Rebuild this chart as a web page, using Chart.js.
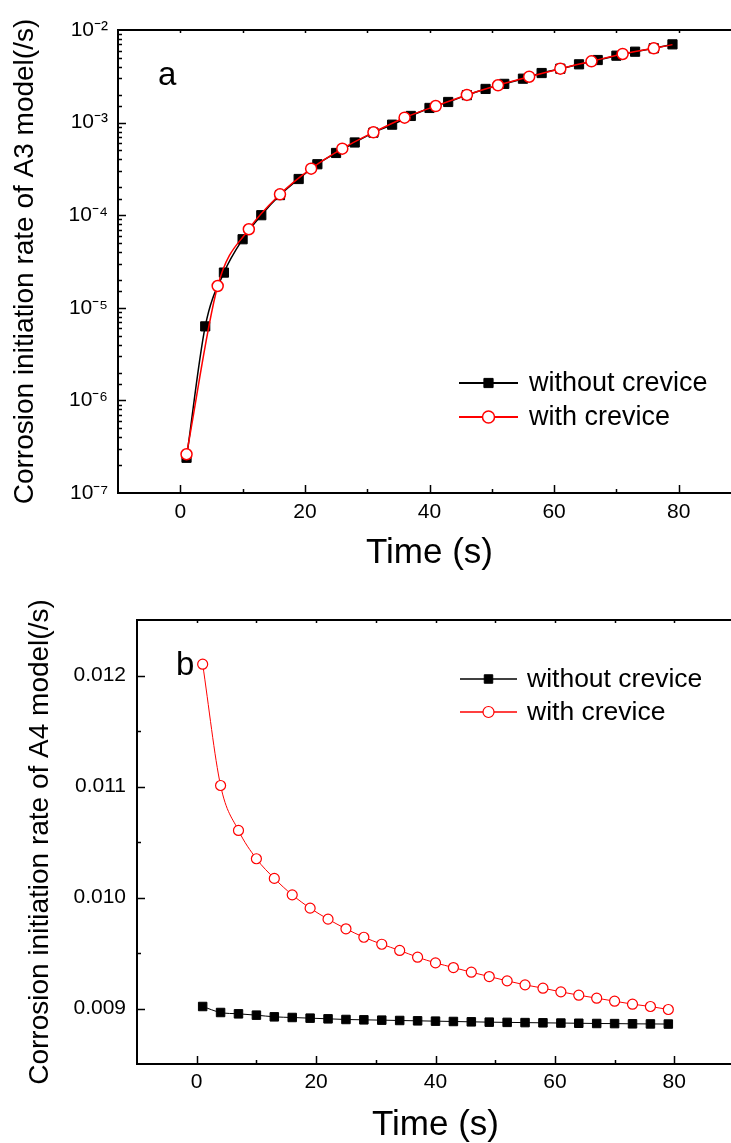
<!DOCTYPE html>
<html>
<head>
<meta charset="utf-8">
<script src="https://cdn.jsdelivr.net/npm/chart.js@4.4.0/dist/chart.umd.min.js"></script>
<style>
  html, body { margin: 0; padding: 0; background: #fff; overflow: hidden; width: 731px; height: 1143px; }
  #wrapA { position: absolute; left: 0; top: 0; width: 750px; height: 580px; }
  #wrapB { position: absolute; left: 0; top: 580px; width: 745px; height: 563px; }
</style>
</head>
<body>
<div id="wrapA"><canvas id="chartA" width="750" height="580"></canvas></div>
<div id="wrapB"><canvas id="chartB" width="745" height="563"></canvas></div>
<script>
// panel a (A3 model, log axis)
const timeA_without = [1, 4, 7, 10, 13, 16, 19, 22, 25, 28, 31, 34, 37, 40, 43, 46, 49, 52, 55, 58, 61, 64, 67, 70, 73, 76, 79];
const rateA_without = [2.4e-7, 6.3e-6, 2.4e-5, 5.5e-5, 1.0e-4, 1.65e-4, 2.46e-4, 3.55e-4, 4.7e-4, 6.1e-4,
                       7.8e-4, 9.5e-4, 1.18e-3, 1.44e-3, 1.67e-3, 1.98e-3, 2.31e-3, 2.62e-3, 2.98e-3, 3.43e-3,
                       3.82e-3, 4.26e-3, 4.74e-3, 5.28e-3, 5.83e-3, 6.35e-3, 7.0e-3];
const timeA_with = [1, 6, 11, 16, 21, 26, 31, 36, 41, 46, 51, 56, 61, 66, 71, 76, 79];
const rateA_with = [2.62e-7, 1.72e-5, 7.05e-5, 1.68e-4, 3.18e-4, 5.23e-4, 7.85e-4, 1.13e-3, 1.51e-3,
                    1.99e-3, 2.53e-3, 3.13e-3, 3.82e-3, 4.59e-3, 5.51e-3, 6.34e-3, 6.95e-3];

// panel b (A4 model, linear axis)
const timeB = [1, 4, 7, 10, 13, 16, 19, 22, 25, 28, 31, 34, 37, 40, 43, 46, 49, 52, 55, 58, 61, 64, 67, 70, 73, 76, 79];
const rateB_without = [0.009018, 0.008964, 0.008952, 0.008940, 0.008925, 0.008919, 0.008913, 0.008907, 0.008901,
                       0.008898, 0.008895, 0.008892, 0.008889, 0.008886, 0.008883, 0.008880, 0.008877, 0.008875,
                       0.008873, 0.008871, 0.008869, 0.008867, 0.008865, 0.008864, 0.008862, 0.008861, 0.008860];
const rateB_with = [0.012102, 0.011009, 0.010604, 0.010349, 0.010172, 0.010024, 0.009904, 0.009805, 0.009718,
                    0.009642, 0.009579, 0.009523, 0.009462, 0.009411, 0.009369, 0.009327, 0.009288, 0.009249,
                    0.009213, 0.009183, 0.009150, 0.009120, 0.009093, 0.009066, 0.009039, 0.009018, 0.008991];

const seriesNames = ['without crevice', 'with crevice'];
const xTickValues = [0, 20, 40, 60, 80];
const xTickLabels = ['0', '20', '40', '60', '80'];
const yTickExpA = [-7, -6, -5, -4, -3, -2];
const yTickLabelsA = ['10\u207B\u2077', '10\u207B\u2076', '10\u207B\u2075', '10\u207B\u2074', '10\u207B\u00B3', '10\u207B\u00B2'];
const yTickValuesB = [0.009, 0.010, 0.011, 0.012];
const yTickLabelsB = ['0.009', '0.010', '0.011', '0.012'];

const FONT = '"Liberation Sans", Arial, Helvetica, sans-serif';

function pairs(xs, ys) {
    return xs.map((x, i) => ({ x: x, y: ys[i] }));
}

function xLabel(v) {
    const i = xTickValues.indexOf(v);
    return i >= 0 ? xTickLabels[i] : '';
}

function near(a, b) {
    return Math.abs(a - b) < 1e-9 * Math.max(1, Math.abs(b)) || Math.abs(a - b) < 1e-12;
}

function drawMarker(ctx, style, x, y, r, fill, stroke, bw) {
    ctx.beginPath();
    if (style === 'rect') {
        const s = r * Math.SQRT1_2;
        ctx.rect(x - s, y - s, 2 * s, 2 * s);
    } else {
        ctx.arc(x, y, r, 0, Math.PI * 2);
    }
    ctx.fillStyle = fill;
    ctx.fill();
    if (bw > 0) {
        ctx.lineWidth = bw;
        ctx.strokeStyle = stroke;
        ctx.stroke();
    }
}

// frame + inward ticks (Origin style); right side falls outside the window
const frameTicks = {
    id: 'frameTicks',
    beforeDatasetsDraw(chart, args, o) {
        const { ctx, chartArea: a, scales: { x, y } } = chart;
        ctx.save();
        ctx.strokeStyle = '#000';
        ctx.lineWidth = 2;
        ctx.strokeRect(a.left, a.top, a.right - a.left, a.bottom - a.top);
        ctx.lineWidth = 1.5;
        ctx.beginPath();
        x.ticks.forEach(t => {
            if (t.value <= x.min || t.value >= x.max) return;
            const px = Math.round(x.getPixelForValue(t.value)) + 0.5;
            const len = xTickValues.includes(t.value) ? 8 : 4;
            ctx.moveTo(px, a.bottom);
            ctx.lineTo(px, a.bottom - len);
            ctx.moveTo(px, a.top);
            ctx.lineTo(px, a.top + 3);
        });
        y.ticks.forEach(t => {
            if (near(t.value, y.min) || near(t.value, y.max)) return;
            const py = Math.round(y.getPixelForValue(t.value)) + 0.5;
            const len = o.isMajor(t.value) ? 8 : 4;
            ctx.moveTo(a.left, py);
            ctx.lineTo(a.left + len, py);
        });
        ctx.stroke();
        ctx.restore();
    }
};

// legend box and panel letter
const panelDecor = {
    id: 'panelDecor',
    afterDraw(chart, args, o) {
        const ctx = chart.ctx;
        ctx.save();
        ctx.fillStyle = '#000';
        ctx.font = '33px ' + FONT;
        ctx.textBaseline = 'alphabetic';
        ctx.textAlign = 'left';
        ctx.fillText(o.letter, o.letterX, o.letterY);

        ctx.font = o.fontSize + 'px ' + FONT;
        ctx.textBaseline = 'middle';
        chart.data.datasets.forEach((ds, i) => {
            const ly = o.y + i * o.gap;
            ctx.strokeStyle = ds.borderColor;
            ctx.lineWidth = o.lineWidth;
            ctx.beginPath();
            ctx.moveTo(o.x1, ly);
            ctx.lineTo(o.x2, ly);
            ctx.stroke();
            const m = o.markers[i];
            drawMarker(ctx, ds.pointStyle, (o.x1 + o.x2) / 2, ly, m.r,
                       ds.pointBackgroundColor, ds.pointBorderColor, m.bw);
            ctx.fillStyle = '#000';
            ctx.fillText(ds.label, o.textX, ly + 1);
        });
        ctx.restore();
    }
};

function xScale(pad, height, titlePad) {
    return {
        type: 'linear',
        min: -10,
        max: 90,
        ticks: {
            stepSize: 10,
            autoSkip: false,
            maxRotation: 0,
            padding: pad,
            color: '#000',
            font: { size: 21, family: FONT },
            callback: v => xLabel(v)
        },
        grid: { display: false, drawTicks: false },
        border: { display: false },
        title: {
            display: true,
            text: 'Time (s)',
            color: '#000',
            font: { size: 35, family: FONT, lineHeight: 1 },
            padding: { top: 0, bottom: titlePad }
        },
        afterFit: s => { s.height = height; }
    };
}

// chart a
new Chart(document.getElementById('chartA'), {
    type: 'line',
    data: {
        datasets: [
            {
                label: seriesNames[0],
                data: pairs(timeA_without, rateA_without),
                borderColor: '#000000',
                borderWidth: 1.5,
                pointStyle: 'rect',
                pointRadius: 6.5,
                pointBackgroundColor: '#000000',
                pointBorderColor: '#000000',
                pointBorderWidth: 1,
                cubicInterpolationMode: 'monotone',
                order: 1
            },
            {
                label: seriesNames[1],
                data: pairs(timeA_with, rateA_with),
                borderColor: '#ff0000',
                borderWidth: 1.5,
                pointStyle: 'circle',
                pointRadius: c => (c.dataIndex === timeA_with.length - 1 ? 0 : 5.5),
                pointBackgroundColor: '#ffffff',
                pointBorderColor: '#ff0000',
                pointBorderWidth: 1.5,
                cubicInterpolationMode: 'monotone',
                order: 0
            }
        ]
    },
    options: {
        responsive: false,
        animation: false,
        events: [],
        layout: { padding: { left: 0, top: 30, right: 9, bottom: 0 } },
        plugins: {
            legend: { display: false },
            tooltip: { enabled: false },
            frameTicks: {
                isMajor: v => Math.abs(Math.log10(v) - Math.round(Math.log10(v))) < 1e-6
            },
            panelDecor: {
                letter: 'a', letterX: 158, letterY: 85, fontSize: 27,
                x1: 459, x2: 518, textX: 529, y: 383, gap: 34, lineWidth: 2,
                markers: [{ r: 6.5, bw: 1 }, { r: 6, bw: 1.5 }]
            }
        },
        scales: {
            x: xScale(7, 87, 9),
            y: {
                type: 'logarithmic',
                min: 1e-7,
                max: 1e-2,
                ticks: {
                    autoSkip: false,
                    padding: 10,
                    color: '#000',
                    font: { size: 21, family: FONT },
                    callback: v => {
                        const e = Math.log10(v);
                        const i = yTickExpA.indexOf(Math.round(e));
                        return (Math.abs(e - Math.round(e)) < 1e-6 && i >= 0) ? yTickLabelsA[i] : '';
                    }
                },
                grid: { display: false, drawTicks: false },
                border: { display: false },
                title: {
                    display: true,
                    text: 'Corrosion initiation rate of A3 model(/s)',
                    color: '#000',
                    font: { size: 28, family: FONT, lineHeight: 1 },
                    padding: { top: 11, bottom: 0 }
                },
                afterFit: s => { s.width = 118; }
            }
        }
    },
    plugins: [frameTicks, panelDecor]
});

// chart b
new Chart(document.getElementById('chartB'), {
    type: 'line',
    data: {
        datasets: [
            {
                label: seriesNames[0],
                data: pairs(timeB, rateB_without),
                borderColor: '#000000',
                borderWidth: 1,
                pointStyle: 'rect',
                pointRadius: 6,
                pointBackgroundColor: '#000000',
                pointBorderColor: '#000000',
                pointBorderWidth: 1,
                cubicInterpolationMode: 'monotone',
                order: 1
            },
            {
                label: seriesNames[1],
                data: pairs(timeB, rateB_with),
                borderColor: '#ff0000',
                borderWidth: 1,
                pointStyle: 'circle',
                pointRadius: 5,
                pointBackgroundColor: '#ffffff',
                pointBorderColor: '#ff0000',
                pointBorderWidth: 1.2,
                cubicInterpolationMode: 'monotone',
                order: 0
            }
        ]
    },
    options: {
        responsive: false,
        animation: false,
        events: [],
        layout: { padding: { left: 0, top: 40, right: 11, bottom: 0 } },
        plugins: {
            legend: { display: false },
            tooltip: { enabled: false },
            frameTicks: {
                isMajor: v => Math.abs(v * 1000 - Math.round(v * 1000)) < 1e-6
            },
            panelDecor: {
                letter: 'b', letterX: 176, letterY: 95, fontSize: 26.5,
                x1: 460, x2: 517, textX: 527, y: 99, gap: 33, lineWidth: 1.5,
                markers: [{ r: 6, bw: 1 }, { r: 5.5, bw: 1.2 }]
            }
        },
        scales: {
            x: xScale(6, 79, 0),
            y: {
                type: 'linear',
                min: 0.0085,
                max: 0.0125,
                ticks: {
                    stepSize: 0.0005,
                    autoSkip: false,
                    padding: 11,
                    color: '#000',
                    font: { size: 21, family: FONT },
                    callback: v => {
                        const i = yTickValuesB.findIndex(t => Math.abs(t - v) < 1e-9);
                        return i >= 0 ? yTickLabelsB[i] : '';
                    }
                },
                grid: { display: false, drawTicks: false },
                border: { display: false },
                title: {
                    display: true,
                    text: 'Corrosion initiation rate of A4 model(/s)',
                    color: '#000',
                    font: { size: 28, family: FONT, lineHeight: 1 },
                    padding: { top: 26, bottom: 0 }
                },
                afterFit: s => { s.width = 137; }
            }
        }
    },
    plugins: [frameTicks, panelDecor]
});
</script>
</body>
</html>
